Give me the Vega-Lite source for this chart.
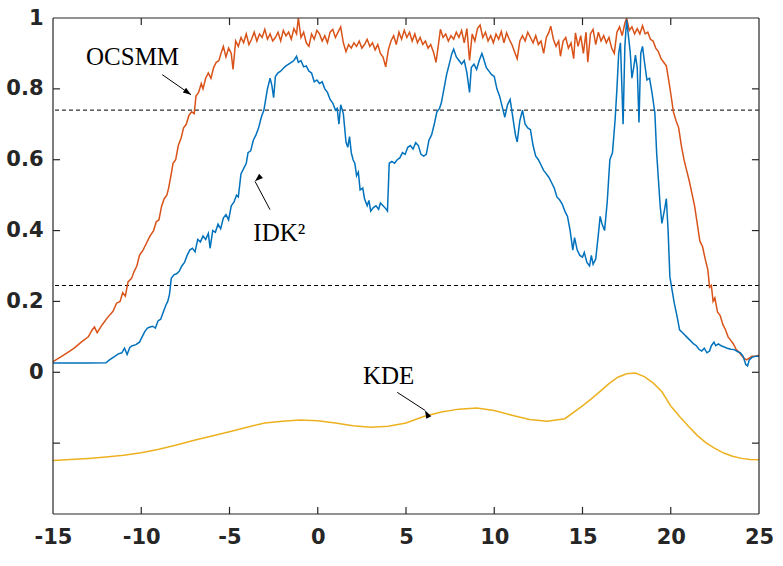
{
  "$schema": "https://vega.github.io/schema/vega-lite/v6.json",
  "description": "OCSMM, IDK2 and KDE scores with threshold lines",
  "width": 706,
  "height": 496,
  "autosize": "none",
  "padding": {"left": 53, "top": 18, "right": 24, "bottom": 52},
  "background": "white",
  "datasets": {
    "curves": [
      {"x": -15.0, "y": 0.030, "series": "OCSMM"},
      {"x": -14.6, "y": 0.042, "series": "OCSMM"},
      {"x": -14.2, "y": 0.055, "series": "OCSMM"},
      {"x": -13.8, "y": 0.068, "series": "OCSMM"},
      {"x": -13.4, "y": 0.085, "series": "OCSMM"},
      {"x": -13.0, "y": 0.100, "series": "OCSMM"},
      {"x": -12.8, "y": 0.118, "series": "OCSMM"},
      {"x": -12.65, "y": 0.128, "series": "OCSMM"},
      {"x": -12.5, "y": 0.112, "series": "OCSMM"},
      {"x": -12.2, "y": 0.135, "series": "OCSMM"},
      {"x": -11.9, "y": 0.155, "series": "OCSMM"},
      {"x": -11.6, "y": 0.172, "series": "OCSMM"},
      {"x": -11.4, "y": 0.195, "series": "OCSMM"},
      {"x": -11.2, "y": 0.200, "series": "OCSMM"},
      {"x": -11.05, "y": 0.225, "series": "OCSMM"},
      {"x": -10.9, "y": 0.215, "series": "OCSMM"},
      {"x": -10.75, "y": 0.255, "series": "OCSMM"},
      {"x": -10.55, "y": 0.265, "series": "OCSMM"},
      {"x": -10.4, "y": 0.285, "series": "OCSMM"},
      {"x": -10.25, "y": 0.300, "series": "OCSMM"},
      {"x": -10.1, "y": 0.330, "series": "OCSMM"},
      {"x": -9.9, "y": 0.345, "series": "OCSMM"},
      {"x": -9.7, "y": 0.365, "series": "OCSMM"},
      {"x": -9.5, "y": 0.385, "series": "OCSMM"},
      {"x": -9.3, "y": 0.400, "series": "OCSMM"},
      {"x": -9.15, "y": 0.425, "series": "OCSMM"},
      {"x": -9.0, "y": 0.430, "series": "OCSMM"},
      {"x": -8.85, "y": 0.468, "series": "OCSMM"},
      {"x": -8.7, "y": 0.490, "series": "OCSMM"},
      {"x": -8.55, "y": 0.500, "series": "OCSMM"},
      {"x": -8.45, "y": 0.520, "series": "OCSMM"},
      {"x": -8.3, "y": 0.560, "series": "OCSMM"},
      {"x": -8.2, "y": 0.590, "series": "OCSMM"},
      {"x": -8.05, "y": 0.600, "series": "OCSMM"},
      {"x": -7.9, "y": 0.640, "series": "OCSMM"},
      {"x": -7.75, "y": 0.660, "series": "OCSMM"},
      {"x": -7.6, "y": 0.690, "series": "OCSMM"},
      {"x": -7.45, "y": 0.700, "series": "OCSMM"},
      {"x": -7.3, "y": 0.725, "series": "OCSMM"},
      {"x": -7.15, "y": 0.735, "series": "OCSMM"},
      {"x": -7.0, "y": 0.730, "series": "OCSMM"},
      {"x": -6.9, "y": 0.780, "series": "OCSMM"},
      {"x": -6.75, "y": 0.790, "series": "OCSMM"},
      {"x": -6.6, "y": 0.815, "series": "OCSMM"},
      {"x": -6.5, "y": 0.800, "series": "OCSMM"},
      {"x": -6.35, "y": 0.830, "series": "OCSMM"},
      {"x": -6.2, "y": 0.845, "series": "OCSMM"},
      {"x": -6.05, "y": 0.830, "series": "OCSMM"},
      {"x": -5.9, "y": 0.860, "series": "OCSMM"},
      {"x": -5.75, "y": 0.875, "series": "OCSMM"},
      {"x": -5.6, "y": 0.880, "series": "OCSMM"},
      {"x": -5.45, "y": 0.905, "series": "OCSMM"},
      {"x": -5.35, "y": 0.920, "series": "OCSMM"},
      {"x": -5.2, "y": 0.890, "series": "OCSMM"},
      {"x": -5.05, "y": 0.915, "series": "OCSMM"},
      {"x": -4.9, "y": 0.900, "series": "OCSMM"},
      {"x": -4.8, "y": 0.855, "series": "OCSMM"},
      {"x": -4.65, "y": 0.935, "series": "OCSMM"},
      {"x": -4.5, "y": 0.920, "series": "OCSMM"},
      {"x": -4.35, "y": 0.945, "series": "OCSMM"},
      {"x": -4.2, "y": 0.930, "series": "OCSMM"},
      {"x": -4.05, "y": 0.955, "series": "OCSMM"},
      {"x": -3.9, "y": 0.925, "series": "OCSMM"},
      {"x": -3.75, "y": 0.940, "series": "OCSMM"},
      {"x": -3.6, "y": 0.960, "series": "OCSMM"},
      {"x": -3.45, "y": 0.935, "series": "OCSMM"},
      {"x": -3.3, "y": 0.955, "series": "OCSMM"},
      {"x": -3.15, "y": 0.945, "series": "OCSMM"},
      {"x": -3.0, "y": 0.968, "series": "OCSMM"},
      {"x": -2.85, "y": 0.940, "series": "OCSMM"},
      {"x": -2.7, "y": 0.955, "series": "OCSMM"},
      {"x": -2.55, "y": 0.935, "series": "OCSMM"},
      {"x": -2.4, "y": 0.945, "series": "OCSMM"},
      {"x": -2.25, "y": 0.960, "series": "OCSMM"},
      {"x": -2.1, "y": 0.935, "series": "OCSMM"},
      {"x": -1.95, "y": 0.965, "series": "OCSMM"},
      {"x": -1.8, "y": 0.950, "series": "OCSMM"},
      {"x": -1.65, "y": 0.960, "series": "OCSMM"},
      {"x": -1.5, "y": 0.940, "series": "OCSMM"},
      {"x": -1.35, "y": 0.970, "series": "OCSMM"},
      {"x": -1.2, "y": 0.955, "series": "OCSMM"},
      {"x": -1.1, "y": 1.000, "series": "OCSMM"},
      {"x": -0.95, "y": 0.945, "series": "OCSMM"},
      {"x": -0.8, "y": 0.960, "series": "OCSMM"},
      {"x": -0.65, "y": 0.930, "series": "OCSMM"},
      {"x": -0.5, "y": 0.920, "series": "OCSMM"},
      {"x": -0.35, "y": 0.955, "series": "OCSMM"},
      {"x": -0.2, "y": 0.940, "series": "OCSMM"},
      {"x": -0.05, "y": 0.965, "series": "OCSMM"},
      {"x": 0.1, "y": 0.955, "series": "OCSMM"},
      {"x": 0.25, "y": 0.935, "series": "OCSMM"},
      {"x": 0.4, "y": 0.950, "series": "OCSMM"},
      {"x": 0.55, "y": 0.930, "series": "OCSMM"},
      {"x": 0.7, "y": 0.960, "series": "OCSMM"},
      {"x": 0.85, "y": 0.968, "series": "OCSMM"},
      {"x": 1.0, "y": 0.945, "series": "OCSMM"},
      {"x": 1.15, "y": 0.960, "series": "OCSMM"},
      {"x": 1.3, "y": 0.975, "series": "OCSMM"},
      {"x": 1.45, "y": 0.930, "series": "OCSMM"},
      {"x": 1.6, "y": 0.905, "series": "OCSMM"},
      {"x": 1.75, "y": 0.925, "series": "OCSMM"},
      {"x": 1.9, "y": 0.915, "series": "OCSMM"},
      {"x": 2.05, "y": 0.930, "series": "OCSMM"},
      {"x": 2.2, "y": 0.920, "series": "OCSMM"},
      {"x": 2.35, "y": 0.935, "series": "OCSMM"},
      {"x": 2.5, "y": 0.915, "series": "OCSMM"},
      {"x": 2.65, "y": 0.925, "series": "OCSMM"},
      {"x": 2.8, "y": 0.940, "series": "OCSMM"},
      {"x": 2.95, "y": 0.920, "series": "OCSMM"},
      {"x": 3.1, "y": 0.930, "series": "OCSMM"},
      {"x": 3.25, "y": 0.910, "series": "OCSMM"},
      {"x": 3.4, "y": 0.925, "series": "OCSMM"},
      {"x": 3.55, "y": 0.900, "series": "OCSMM"},
      {"x": 3.7, "y": 0.890, "series": "OCSMM"},
      {"x": 3.85, "y": 0.862, "series": "OCSMM"},
      {"x": 4.0, "y": 0.910, "series": "OCSMM"},
      {"x": 4.15, "y": 0.935, "series": "OCSMM"},
      {"x": 4.3, "y": 0.950, "series": "OCSMM"},
      {"x": 4.45, "y": 0.925, "series": "OCSMM"},
      {"x": 4.6, "y": 0.960, "series": "OCSMM"},
      {"x": 4.75, "y": 0.940, "series": "OCSMM"},
      {"x": 4.9, "y": 0.965, "series": "OCSMM"},
      {"x": 5.05, "y": 0.945, "series": "OCSMM"},
      {"x": 5.2, "y": 0.960, "series": "OCSMM"},
      {"x": 5.35, "y": 0.935, "series": "OCSMM"},
      {"x": 5.5, "y": 0.955, "series": "OCSMM"},
      {"x": 5.65, "y": 0.930, "series": "OCSMM"},
      {"x": 5.8, "y": 0.945, "series": "OCSMM"},
      {"x": 5.95, "y": 0.925, "series": "OCSMM"},
      {"x": 6.1, "y": 0.935, "series": "OCSMM"},
      {"x": 6.25, "y": 0.915, "series": "OCSMM"},
      {"x": 6.4, "y": 0.925, "series": "OCSMM"},
      {"x": 6.55, "y": 0.905, "series": "OCSMM"},
      {"x": 6.7, "y": 0.875, "series": "OCSMM"},
      {"x": 6.85, "y": 0.930, "series": "OCSMM"},
      {"x": 6.95, "y": 0.968, "series": "OCSMM"},
      {"x": 7.1, "y": 0.945, "series": "OCSMM"},
      {"x": 7.25, "y": 0.955, "series": "OCSMM"},
      {"x": 7.4, "y": 0.935, "series": "OCSMM"},
      {"x": 7.55, "y": 0.950, "series": "OCSMM"},
      {"x": 7.7, "y": 0.940, "series": "OCSMM"},
      {"x": 7.85, "y": 0.960, "series": "OCSMM"},
      {"x": 8.0, "y": 0.945, "series": "OCSMM"},
      {"x": 8.15, "y": 0.965, "series": "OCSMM"},
      {"x": 8.3, "y": 0.930, "series": "OCSMM"},
      {"x": 8.45, "y": 0.970, "series": "OCSMM"},
      {"x": 8.6, "y": 0.880, "series": "OCSMM"},
      {"x": 8.75, "y": 0.955, "series": "OCSMM"},
      {"x": 8.9, "y": 0.935, "series": "OCSMM"},
      {"x": 9.05, "y": 0.970, "series": "OCSMM"},
      {"x": 9.2, "y": 0.980, "series": "OCSMM"},
      {"x": 9.35, "y": 0.945, "series": "OCSMM"},
      {"x": 9.5, "y": 0.960, "series": "OCSMM"},
      {"x": 9.65, "y": 0.935, "series": "OCSMM"},
      {"x": 9.8, "y": 0.950, "series": "OCSMM"},
      {"x": 9.95, "y": 0.930, "series": "OCSMM"},
      {"x": 10.1, "y": 0.955, "series": "OCSMM"},
      {"x": 10.25, "y": 0.940, "series": "OCSMM"},
      {"x": 10.4, "y": 0.962, "series": "OCSMM"},
      {"x": 10.55, "y": 0.930, "series": "OCSMM"},
      {"x": 10.7, "y": 0.958, "series": "OCSMM"},
      {"x": 10.85, "y": 0.940, "series": "OCSMM"},
      {"x": 11.0, "y": 0.925, "series": "OCSMM"},
      {"x": 11.15, "y": 0.905, "series": "OCSMM"},
      {"x": 11.3, "y": 0.885, "series": "OCSMM"},
      {"x": 11.45, "y": 0.935, "series": "OCSMM"},
      {"x": 11.6, "y": 0.950, "series": "OCSMM"},
      {"x": 11.75, "y": 0.935, "series": "OCSMM"},
      {"x": 11.9, "y": 0.960, "series": "OCSMM"},
      {"x": 12.05, "y": 0.945, "series": "OCSMM"},
      {"x": 12.2, "y": 0.930, "series": "OCSMM"},
      {"x": 12.35, "y": 0.950, "series": "OCSMM"},
      {"x": 12.5, "y": 0.925, "series": "OCSMM"},
      {"x": 12.65, "y": 0.935, "series": "OCSMM"},
      {"x": 12.8, "y": 0.900, "series": "OCSMM"},
      {"x": 12.95, "y": 0.945, "series": "OCSMM"},
      {"x": 13.1, "y": 0.960, "series": "OCSMM"},
      {"x": 13.2, "y": 0.977, "series": "OCSMM"},
      {"x": 13.35, "y": 0.940, "series": "OCSMM"},
      {"x": 13.5, "y": 0.920, "series": "OCSMM"},
      {"x": 13.65, "y": 0.935, "series": "OCSMM"},
      {"x": 13.75, "y": 0.892, "series": "OCSMM"},
      {"x": 13.9, "y": 0.935, "series": "OCSMM"},
      {"x": 14.05, "y": 0.945, "series": "OCSMM"},
      {"x": 14.2, "y": 0.915, "series": "OCSMM"},
      {"x": 14.35, "y": 0.930, "series": "OCSMM"},
      {"x": 14.5, "y": 0.885, "series": "OCSMM"},
      {"x": 14.6, "y": 0.958, "series": "OCSMM"},
      {"x": 14.75, "y": 0.920, "series": "OCSMM"},
      {"x": 14.9, "y": 0.950, "series": "OCSMM"},
      {"x": 15.05, "y": 0.900, "series": "OCSMM"},
      {"x": 15.2, "y": 0.960, "series": "OCSMM"},
      {"x": 15.3, "y": 0.875, "series": "OCSMM"},
      {"x": 15.45, "y": 0.955, "series": "OCSMM"},
      {"x": 15.6, "y": 0.968, "series": "OCSMM"},
      {"x": 15.75, "y": 0.925, "series": "OCSMM"},
      {"x": 15.9, "y": 0.960, "series": "OCSMM"},
      {"x": 16.05, "y": 0.935, "series": "OCSMM"},
      {"x": 16.2, "y": 0.950, "series": "OCSMM"},
      {"x": 16.35, "y": 0.930, "series": "OCSMM"},
      {"x": 16.5, "y": 0.945, "series": "OCSMM"},
      {"x": 16.65, "y": 0.915, "series": "OCSMM"},
      {"x": 16.8, "y": 0.900, "series": "OCSMM"},
      {"x": 16.95, "y": 0.960, "series": "OCSMM"},
      {"x": 17.1, "y": 0.975, "series": "OCSMM"},
      {"x": 17.25, "y": 0.950, "series": "OCSMM"},
      {"x": 17.4, "y": 0.985, "series": "OCSMM"},
      {"x": 17.5, "y": 1.000, "series": "OCSMM"},
      {"x": 17.65, "y": 0.965, "series": "OCSMM"},
      {"x": 17.8, "y": 0.975, "series": "OCSMM"},
      {"x": 17.95, "y": 0.955, "series": "OCSMM"},
      {"x": 18.1, "y": 0.970, "series": "OCSMM"},
      {"x": 18.25, "y": 0.955, "series": "OCSMM"},
      {"x": 18.4, "y": 0.978, "series": "OCSMM"},
      {"x": 18.55, "y": 0.955, "series": "OCSMM"},
      {"x": 18.7, "y": 0.960, "series": "OCSMM"},
      {"x": 18.85, "y": 0.940, "series": "OCSMM"},
      {"x": 19.0, "y": 0.935, "series": "OCSMM"},
      {"x": 19.15, "y": 0.915, "series": "OCSMM"},
      {"x": 19.3, "y": 0.905, "series": "OCSMM"},
      {"x": 19.45, "y": 0.885, "series": "OCSMM"},
      {"x": 19.6, "y": 0.875, "series": "OCSMM"},
      {"x": 19.75, "y": 0.865, "series": "OCSMM"},
      {"x": 19.9, "y": 0.820, "series": "OCSMM"},
      {"x": 20.05, "y": 0.770, "series": "OCSMM"},
      {"x": 20.15, "y": 0.735, "series": "OCSMM"},
      {"x": 20.3, "y": 0.710, "series": "OCSMM"},
      {"x": 20.45, "y": 0.690, "series": "OCSMM"},
      {"x": 20.6, "y": 0.640, "series": "OCSMM"},
      {"x": 20.75, "y": 0.600, "series": "OCSMM"},
      {"x": 20.9, "y": 0.570, "series": "OCSMM"},
      {"x": 21.05, "y": 0.540, "series": "OCSMM"},
      {"x": 21.2, "y": 0.505, "series": "OCSMM"},
      {"x": 21.35, "y": 0.470, "series": "OCSMM"},
      {"x": 21.5, "y": 0.420, "series": "OCSMM"},
      {"x": 21.65, "y": 0.370, "series": "OCSMM"},
      {"x": 21.8, "y": 0.355, "series": "OCSMM"},
      {"x": 21.95, "y": 0.320, "series": "OCSMM"},
      {"x": 22.1, "y": 0.290, "series": "OCSMM"},
      {"x": 22.2, "y": 0.240, "series": "OCSMM"},
      {"x": 22.3, "y": 0.245, "series": "OCSMM"},
      {"x": 22.4, "y": 0.200, "series": "OCSMM"},
      {"x": 22.5, "y": 0.210, "series": "OCSMM"},
      {"x": 22.65, "y": 0.170, "series": "OCSMM"},
      {"x": 22.8, "y": 0.160, "series": "OCSMM"},
      {"x": 22.95, "y": 0.135, "series": "OCSMM"},
      {"x": 23.1, "y": 0.120, "series": "OCSMM"},
      {"x": 23.25, "y": 0.100, "series": "OCSMM"},
      {"x": 23.4, "y": 0.090, "series": "OCSMM"},
      {"x": 23.55, "y": 0.080, "series": "OCSMM"},
      {"x": 23.7, "y": 0.065, "series": "OCSMM"},
      {"x": 23.85, "y": 0.058, "series": "OCSMM"},
      {"x": 24.0, "y": 0.048, "series": "OCSMM"},
      {"x": 24.15, "y": 0.040, "series": "OCSMM"},
      {"x": 24.3, "y": 0.035, "series": "OCSMM"},
      {"x": 24.45, "y": 0.040, "series": "OCSMM"},
      {"x": 24.6, "y": 0.045, "series": "OCSMM"},
      {"x": 24.8, "y": 0.045, "series": "OCSMM"},
      {"x": 25.0, "y": 0.048, "series": "OCSMM"},

      {"x": -15.0, "y": 0.026, "series": "IDK2"},
      {"x": -14.0, "y": 0.026, "series": "IDK2"},
      {"x": -13.0, "y": 0.026, "series": "IDK2"},
      {"x": -12.0, "y": 0.027, "series": "IDK2"},
      {"x": -11.8, "y": 0.035, "series": "IDK2"},
      {"x": -11.5, "y": 0.045, "series": "IDK2"},
      {"x": -11.3, "y": 0.052, "series": "IDK2"},
      {"x": -11.1, "y": 0.055, "series": "IDK2"},
      {"x": -10.95, "y": 0.068, "series": "IDK2"},
      {"x": -10.8, "y": 0.050, "series": "IDK2"},
      {"x": -10.65, "y": 0.070, "series": "IDK2"},
      {"x": -10.5, "y": 0.075, "series": "IDK2"},
      {"x": -10.3, "y": 0.078, "series": "IDK2"},
      {"x": -10.1, "y": 0.085, "series": "IDK2"},
      {"x": -9.95, "y": 0.100, "series": "IDK2"},
      {"x": -9.8, "y": 0.115, "series": "IDK2"},
      {"x": -9.65, "y": 0.125, "series": "IDK2"},
      {"x": -9.5, "y": 0.128, "series": "IDK2"},
      {"x": -9.35, "y": 0.130, "series": "IDK2"},
      {"x": -9.2, "y": 0.125, "series": "IDK2"},
      {"x": -9.05, "y": 0.145, "series": "IDK2"},
      {"x": -8.9, "y": 0.150, "series": "IDK2"},
      {"x": -8.75, "y": 0.170, "series": "IDK2"},
      {"x": -8.6, "y": 0.190, "series": "IDK2"},
      {"x": -8.5, "y": 0.200, "series": "IDK2"},
      {"x": -8.4, "y": 0.220, "series": "IDK2"},
      {"x": -8.3, "y": 0.265, "series": "IDK2"},
      {"x": -8.15, "y": 0.275, "series": "IDK2"},
      {"x": -8.0, "y": 0.278, "series": "IDK2"},
      {"x": -7.85, "y": 0.285, "series": "IDK2"},
      {"x": -7.7, "y": 0.300, "series": "IDK2"},
      {"x": -7.55, "y": 0.310, "series": "IDK2"},
      {"x": -7.4, "y": 0.330, "series": "IDK2"},
      {"x": -7.25, "y": 0.345, "series": "IDK2"},
      {"x": -7.1, "y": 0.350, "series": "IDK2"},
      {"x": -6.95, "y": 0.340, "series": "IDK2"},
      {"x": -6.8, "y": 0.375, "series": "IDK2"},
      {"x": -6.65, "y": 0.368, "series": "IDK2"},
      {"x": -6.5, "y": 0.385, "series": "IDK2"},
      {"x": -6.35, "y": 0.375, "series": "IDK2"},
      {"x": -6.2, "y": 0.392, "series": "IDK2"},
      {"x": -6.1, "y": 0.350, "series": "IDK2"},
      {"x": -5.95, "y": 0.400, "series": "IDK2"},
      {"x": -5.8, "y": 0.395, "series": "IDK2"},
      {"x": -5.65, "y": 0.418, "series": "IDK2"},
      {"x": -5.5, "y": 0.405, "series": "IDK2"},
      {"x": -5.35, "y": 0.435, "series": "IDK2"},
      {"x": -5.2, "y": 0.445, "series": "IDK2"},
      {"x": -5.05, "y": 0.430, "series": "IDK2"},
      {"x": -4.9, "y": 0.470, "series": "IDK2"},
      {"x": -4.75, "y": 0.480, "series": "IDK2"},
      {"x": -4.6, "y": 0.500, "series": "IDK2"},
      {"x": -4.5, "y": 0.495, "series": "IDK2"},
      {"x": -4.35, "y": 0.560, "series": "IDK2"},
      {"x": -4.2, "y": 0.575, "series": "IDK2"},
      {"x": -4.05, "y": 0.590, "series": "IDK2"},
      {"x": -3.95, "y": 0.620, "series": "IDK2"},
      {"x": -3.8, "y": 0.625, "series": "IDK2"},
      {"x": -3.65, "y": 0.655, "series": "IDK2"},
      {"x": -3.5, "y": 0.670, "series": "IDK2"},
      {"x": -3.35, "y": 0.690, "series": "IDK2"},
      {"x": -3.2, "y": 0.720, "series": "IDK2"},
      {"x": -3.05, "y": 0.740, "series": "IDK2"},
      {"x": -2.95, "y": 0.770, "series": "IDK2"},
      {"x": -2.85, "y": 0.800, "series": "IDK2"},
      {"x": -2.7, "y": 0.830, "series": "IDK2"},
      {"x": -2.6, "y": 0.810, "series": "IDK2"},
      {"x": -2.5, "y": 0.775, "series": "IDK2"},
      {"x": -2.4, "y": 0.835, "series": "IDK2"},
      {"x": -2.25, "y": 0.845, "series": "IDK2"},
      {"x": -2.1, "y": 0.850, "series": "IDK2"},
      {"x": -1.95, "y": 0.858, "series": "IDK2"},
      {"x": -1.8, "y": 0.865, "series": "IDK2"},
      {"x": -1.65, "y": 0.870, "series": "IDK2"},
      {"x": -1.5, "y": 0.875, "series": "IDK2"},
      {"x": -1.35, "y": 0.880, "series": "IDK2"},
      {"x": -1.2, "y": 0.892, "series": "IDK2"},
      {"x": -1.1, "y": 0.875, "series": "IDK2"},
      {"x": -0.95, "y": 0.880, "series": "IDK2"},
      {"x": -0.8, "y": 0.862, "series": "IDK2"},
      {"x": -0.65, "y": 0.865, "series": "IDK2"},
      {"x": -0.5, "y": 0.850, "series": "IDK2"},
      {"x": -0.35, "y": 0.845, "series": "IDK2"},
      {"x": -0.2, "y": 0.820, "series": "IDK2"},
      {"x": -0.05, "y": 0.825, "series": "IDK2"},
      {"x": 0.1, "y": 0.815, "series": "IDK2"},
      {"x": 0.25, "y": 0.820, "series": "IDK2"},
      {"x": 0.4, "y": 0.800, "series": "IDK2"},
      {"x": 0.55, "y": 0.790, "series": "IDK2"},
      {"x": 0.7, "y": 0.770, "series": "IDK2"},
      {"x": 0.85, "y": 0.760, "series": "IDK2"},
      {"x": 1.0, "y": 0.740, "series": "IDK2"},
      {"x": 1.1, "y": 0.745, "series": "IDK2"},
      {"x": 1.2, "y": 0.700, "series": "IDK2"},
      {"x": 1.3, "y": 0.755, "series": "IDK2"},
      {"x": 1.45, "y": 0.730, "series": "IDK2"},
      {"x": 1.6, "y": 0.650, "series": "IDK2"},
      {"x": 1.7, "y": 0.635, "series": "IDK2"},
      {"x": 1.8, "y": 0.665, "series": "IDK2"},
      {"x": 1.9, "y": 0.620, "series": "IDK2"},
      {"x": 2.0, "y": 0.600, "series": "IDK2"},
      {"x": 2.1, "y": 0.590, "series": "IDK2"},
      {"x": 2.2, "y": 0.555, "series": "IDK2"},
      {"x": 2.3, "y": 0.565, "series": "IDK2"},
      {"x": 2.4, "y": 0.515, "series": "IDK2"},
      {"x": 2.55, "y": 0.520, "series": "IDK2"},
      {"x": 2.65, "y": 0.490, "series": "IDK2"},
      {"x": 2.8, "y": 0.470, "series": "IDK2"},
      {"x": 2.9, "y": 0.485, "series": "IDK2"},
      {"x": 3.0, "y": 0.455, "series": "IDK2"},
      {"x": 3.15, "y": 0.465, "series": "IDK2"},
      {"x": 3.3, "y": 0.470, "series": "IDK2"},
      {"x": 3.45, "y": 0.460, "series": "IDK2"},
      {"x": 3.55, "y": 0.478, "series": "IDK2"},
      {"x": 3.7, "y": 0.470, "series": "IDK2"},
      {"x": 3.85, "y": 0.462, "series": "IDK2"},
      {"x": 3.95, "y": 0.455, "series": "IDK2"},
      {"x": 4.05, "y": 0.590, "series": "IDK2"},
      {"x": 4.2, "y": 0.595, "series": "IDK2"},
      {"x": 4.35, "y": 0.590, "series": "IDK2"},
      {"x": 4.5, "y": 0.600, "series": "IDK2"},
      {"x": 4.65, "y": 0.605, "series": "IDK2"},
      {"x": 4.8, "y": 0.620, "series": "IDK2"},
      {"x": 4.95, "y": 0.615, "series": "IDK2"},
      {"x": 5.1, "y": 0.635, "series": "IDK2"},
      {"x": 5.25, "y": 0.640, "series": "IDK2"},
      {"x": 5.4, "y": 0.630, "series": "IDK2"},
      {"x": 5.55, "y": 0.648, "series": "IDK2"},
      {"x": 5.7, "y": 0.640, "series": "IDK2"},
      {"x": 5.85, "y": 0.615, "series": "IDK2"},
      {"x": 6.0, "y": 0.610, "series": "IDK2"},
      {"x": 6.15, "y": 0.615, "series": "IDK2"},
      {"x": 6.3, "y": 0.655, "series": "IDK2"},
      {"x": 6.45, "y": 0.670, "series": "IDK2"},
      {"x": 6.6, "y": 0.700, "series": "IDK2"},
      {"x": 6.75, "y": 0.735, "series": "IDK2"},
      {"x": 6.9, "y": 0.745, "series": "IDK2"},
      {"x": 7.0, "y": 0.760, "series": "IDK2"},
      {"x": 7.15, "y": 0.800, "series": "IDK2"},
      {"x": 7.3, "y": 0.840, "series": "IDK2"},
      {"x": 7.45, "y": 0.870, "series": "IDK2"},
      {"x": 7.6, "y": 0.900, "series": "IDK2"},
      {"x": 7.7, "y": 0.912, "series": "IDK2"},
      {"x": 7.85, "y": 0.890, "series": "IDK2"},
      {"x": 8.0, "y": 0.880, "series": "IDK2"},
      {"x": 8.15, "y": 0.870, "series": "IDK2"},
      {"x": 8.3, "y": 0.880, "series": "IDK2"},
      {"x": 8.45, "y": 0.845, "series": "IDK2"},
      {"x": 8.6, "y": 0.790, "series": "IDK2"},
      {"x": 8.7, "y": 0.860, "series": "IDK2"},
      {"x": 8.85, "y": 0.870, "series": "IDK2"},
      {"x": 9.0, "y": 0.855, "series": "IDK2"},
      {"x": 9.15, "y": 0.880, "series": "IDK2"},
      {"x": 9.3, "y": 0.900, "series": "IDK2"},
      {"x": 9.4, "y": 0.885, "series": "IDK2"},
      {"x": 9.55, "y": 0.860, "series": "IDK2"},
      {"x": 9.7, "y": 0.850, "series": "IDK2"},
      {"x": 9.85, "y": 0.840, "series": "IDK2"},
      {"x": 10.0, "y": 0.835, "series": "IDK2"},
      {"x": 10.15, "y": 0.800, "series": "IDK2"},
      {"x": 10.3, "y": 0.780, "series": "IDK2"},
      {"x": 10.45, "y": 0.750, "series": "IDK2"},
      {"x": 10.6, "y": 0.720, "series": "IDK2"},
      {"x": 10.75, "y": 0.755, "series": "IDK2"},
      {"x": 10.9, "y": 0.770, "series": "IDK2"},
      {"x": 11.05, "y": 0.720, "series": "IDK2"},
      {"x": 11.2, "y": 0.670, "series": "IDK2"},
      {"x": 11.3, "y": 0.650, "series": "IDK2"},
      {"x": 11.45, "y": 0.710, "series": "IDK2"},
      {"x": 11.6, "y": 0.740, "series": "IDK2"},
      {"x": 11.75, "y": 0.700, "series": "IDK2"},
      {"x": 11.9, "y": 0.690, "series": "IDK2"},
      {"x": 12.05, "y": 0.685, "series": "IDK2"},
      {"x": 12.2, "y": 0.640, "series": "IDK2"},
      {"x": 12.35, "y": 0.610, "series": "IDK2"},
      {"x": 12.5, "y": 0.600, "series": "IDK2"},
      {"x": 12.65, "y": 0.585, "series": "IDK2"},
      {"x": 12.8, "y": 0.570, "series": "IDK2"},
      {"x": 12.95, "y": 0.560, "series": "IDK2"},
      {"x": 13.1, "y": 0.550, "series": "IDK2"},
      {"x": 13.25, "y": 0.535, "series": "IDK2"},
      {"x": 13.4, "y": 0.520, "series": "IDK2"},
      {"x": 13.55, "y": 0.495, "series": "IDK2"},
      {"x": 13.7, "y": 0.487, "series": "IDK2"},
      {"x": 13.85, "y": 0.475, "series": "IDK2"},
      {"x": 14.0, "y": 0.455, "series": "IDK2"},
      {"x": 14.15, "y": 0.440, "series": "IDK2"},
      {"x": 14.3, "y": 0.400, "series": "IDK2"},
      {"x": 14.45, "y": 0.345, "series": "IDK2"},
      {"x": 14.55, "y": 0.380, "series": "IDK2"},
      {"x": 14.7, "y": 0.345, "series": "IDK2"},
      {"x": 14.85, "y": 0.330, "series": "IDK2"},
      {"x": 15.0, "y": 0.325, "series": "IDK2"},
      {"x": 15.1, "y": 0.338, "series": "IDK2"},
      {"x": 15.25, "y": 0.310, "series": "IDK2"},
      {"x": 15.4, "y": 0.300, "series": "IDK2"},
      {"x": 15.5, "y": 0.330, "series": "IDK2"},
      {"x": 15.6, "y": 0.305, "series": "IDK2"},
      {"x": 15.75, "y": 0.320, "series": "IDK2"},
      {"x": 15.9, "y": 0.390, "series": "IDK2"},
      {"x": 16.0, "y": 0.440, "series": "IDK2"},
      {"x": 16.1, "y": 0.420, "series": "IDK2"},
      {"x": 16.25, "y": 0.400, "series": "IDK2"},
      {"x": 16.4, "y": 0.480, "series": "IDK2"},
      {"x": 16.55, "y": 0.600, "series": "IDK2"},
      {"x": 16.7, "y": 0.620, "series": "IDK2"},
      {"x": 16.85, "y": 0.715, "series": "IDK2"},
      {"x": 16.95, "y": 0.800, "series": "IDK2"},
      {"x": 17.05, "y": 0.900, "series": "IDK2"},
      {"x": 17.15, "y": 0.930, "series": "IDK2"},
      {"x": 17.3, "y": 0.700, "series": "IDK2"},
      {"x": 17.4, "y": 0.920, "series": "IDK2"},
      {"x": 17.5, "y": 0.995, "series": "IDK2"},
      {"x": 17.6, "y": 0.950, "series": "IDK2"},
      {"x": 17.7, "y": 0.905, "series": "IDK2"},
      {"x": 17.8, "y": 0.830, "series": "IDK2"},
      {"x": 17.9, "y": 0.860, "series": "IDK2"},
      {"x": 18.0, "y": 0.895, "series": "IDK2"},
      {"x": 18.1, "y": 0.860, "series": "IDK2"},
      {"x": 18.2, "y": 0.705, "series": "IDK2"},
      {"x": 18.3, "y": 0.900, "series": "IDK2"},
      {"x": 18.4, "y": 0.920, "series": "IDK2"},
      {"x": 18.5, "y": 0.880, "series": "IDK2"},
      {"x": 18.65, "y": 0.825, "series": "IDK2"},
      {"x": 18.8, "y": 0.830, "series": "IDK2"},
      {"x": 18.95, "y": 0.785, "series": "IDK2"},
      {"x": 19.1, "y": 0.732, "series": "IDK2"},
      {"x": 19.2, "y": 0.620, "series": "IDK2"},
      {"x": 19.3, "y": 0.545, "series": "IDK2"},
      {"x": 19.4, "y": 0.470, "series": "IDK2"},
      {"x": 19.5, "y": 0.420, "series": "IDK2"},
      {"x": 19.65, "y": 0.460, "series": "IDK2"},
      {"x": 19.75, "y": 0.490, "series": "IDK2"},
      {"x": 19.85, "y": 0.400, "series": "IDK2"},
      {"x": 19.95, "y": 0.270, "series": "IDK2"},
      {"x": 20.05, "y": 0.240, "series": "IDK2"},
      {"x": 20.2, "y": 0.195, "series": "IDK2"},
      {"x": 20.35, "y": 0.160, "series": "IDK2"},
      {"x": 20.5, "y": 0.120, "series": "IDK2"},
      {"x": 20.7, "y": 0.110, "series": "IDK2"},
      {"x": 20.9, "y": 0.100, "series": "IDK2"},
      {"x": 21.1, "y": 0.090, "series": "IDK2"},
      {"x": 21.3, "y": 0.080, "series": "IDK2"},
      {"x": 21.45, "y": 0.075, "series": "IDK2"},
      {"x": 21.6, "y": 0.065, "series": "IDK2"},
      {"x": 21.75, "y": 0.060, "series": "IDK2"},
      {"x": 21.9, "y": 0.068, "series": "IDK2"},
      {"x": 22.05, "y": 0.055, "series": "IDK2"},
      {"x": 22.2, "y": 0.060, "series": "IDK2"},
      {"x": 22.3, "y": 0.075, "series": "IDK2"},
      {"x": 22.45, "y": 0.085, "series": "IDK2"},
      {"x": 22.55, "y": 0.075, "series": "IDK2"},
      {"x": 22.7, "y": 0.080, "series": "IDK2"},
      {"x": 22.85, "y": 0.075, "series": "IDK2"},
      {"x": 23.0, "y": 0.072, "series": "IDK2"},
      {"x": 23.2, "y": 0.068, "series": "IDK2"},
      {"x": 23.4, "y": 0.065, "series": "IDK2"},
      {"x": 23.6, "y": 0.064, "series": "IDK2"},
      {"x": 23.8, "y": 0.058, "series": "IDK2"},
      {"x": 23.95, "y": 0.055, "series": "IDK2"},
      {"x": 24.1, "y": 0.045, "series": "IDK2"},
      {"x": 24.25, "y": 0.022, "series": "IDK2"},
      {"x": 24.35, "y": 0.018, "series": "IDK2"},
      {"x": 24.45, "y": 0.035, "series": "IDK2"},
      {"x": 24.6, "y": 0.042, "series": "IDK2"},
      {"x": 24.8, "y": 0.045, "series": "IDK2"},
      {"x": 25.0, "y": 0.045, "series": "IDK2"},

      {"x": -15, "y": -0.249, "series": "KDE"},
      {"x": -14, "y": -0.246, "series": "KDE"},
      {"x": -13, "y": -0.243, "series": "KDE"},
      {"x": -12, "y": -0.239, "series": "KDE"},
      {"x": -11, "y": -0.234, "series": "KDE"},
      {"x": -10, "y": -0.227, "series": "KDE"},
      {"x": -9, "y": -0.217, "series": "KDE"},
      {"x": -8, "y": -0.205, "series": "KDE"},
      {"x": -7, "y": -0.192, "series": "KDE"},
      {"x": -6, "y": -0.180, "series": "KDE"},
      {"x": -5, "y": -0.168, "series": "KDE"},
      {"x": -4, "y": -0.155, "series": "KDE"},
      {"x": -3, "y": -0.143, "series": "KDE"},
      {"x": -2, "y": -0.138, "series": "KDE"},
      {"x": -1, "y": -0.135, "series": "KDE"},
      {"x": 0, "y": -0.137, "series": "KDE"},
      {"x": 1, "y": -0.143, "series": "KDE"},
      {"x": 2, "y": -0.151, "series": "KDE"},
      {"x": 3, "y": -0.155, "series": "KDE"},
      {"x": 4, "y": -0.152, "series": "KDE"},
      {"x": 5, "y": -0.143, "series": "KDE"},
      {"x": 6, "y": -0.125, "series": "KDE"},
      {"x": 7, "y": -0.112, "series": "KDE"},
      {"x": 8, "y": -0.104, "series": "KDE"},
      {"x": 9, "y": -0.101, "series": "KDE"},
      {"x": 10, "y": -0.108, "series": "KDE"},
      {"x": 11, "y": -0.121, "series": "KDE"},
      {"x": 12, "y": -0.133, "series": "KDE"},
      {"x": 13, "y": -0.138, "series": "KDE"},
      {"x": 14, "y": -0.131, "series": "KDE"},
      {"x": 15, "y": -0.095, "series": "KDE"},
      {"x": 15.5, "y": -0.075, "series": "KDE"},
      {"x": 16, "y": -0.054, "series": "KDE"},
      {"x": 16.5, "y": -0.032, "series": "KDE"},
      {"x": 17, "y": -0.014, "series": "KDE"},
      {"x": 17.5, "y": -0.004, "series": "KDE"},
      {"x": 18, "y": -0.002, "series": "KDE"},
      {"x": 18.5, "y": -0.012, "series": "KDE"},
      {"x": 19, "y": -0.030, "series": "KDE"},
      {"x": 19.5, "y": -0.055, "series": "KDE"},
      {"x": 20, "y": -0.095, "series": "KDE"},
      {"x": 20.5, "y": -0.125, "series": "KDE"},
      {"x": 21, "y": -0.152, "series": "KDE"},
      {"x": 21.5, "y": -0.178, "series": "KDE"},
      {"x": 22, "y": -0.199, "series": "KDE"},
      {"x": 22.5, "y": -0.215, "series": "KDE"},
      {"x": 23, "y": -0.228, "series": "KDE"},
      {"x": 23.5, "y": -0.237, "series": "KDE"},
      {"x": 24, "y": -0.243, "series": "KDE"},
      {"x": 24.5, "y": -0.246, "series": "KDE"},
      {"x": 25, "y": -0.247, "series": "KDE"}
    ],
    "thresholds": [{"y": 0.74}, {"y": 0.245}],
    "frame": [
      {"x": -15, "y": -0.4, "x2": 25, "y2": -0.4},
      {"x": -15, "y": 1, "x2": 25, "y2": 1},
      {"x": -15, "y": -0.4, "x2": -15, "y2": 1},
      {"x": 25, "y": -0.4, "x2": 25, "y2": 1},
      {"x": -10, "y": -0.4, "x2": -10, "y2": -0.38},
      {"x": -5, "y": -0.4, "x2": -5, "y2": -0.38},
      {"x": 0, "y": -0.4, "x2": 0, "y2": -0.38},
      {"x": 5, "y": -0.4, "x2": 5, "y2": -0.38},
      {"x": 10, "y": -0.4, "x2": 10, "y2": -0.38},
      {"x": 15, "y": -0.4, "x2": 15, "y2": -0.38},
      {"x": 20, "y": -0.4, "x2": 20, "y2": -0.38},
      {"x": -10, "y": 1, "x2": -10, "y2": 0.98},
      {"x": -5, "y": 1, "x2": -5, "y2": 0.98},
      {"x": 0, "y": 1, "x2": 0, "y2": 0.98},
      {"x": 5, "y": 1, "x2": 5, "y2": 0.98},
      {"x": 10, "y": 1, "x2": 10, "y2": 0.98},
      {"x": 15, "y": 1, "x2": 15, "y2": 0.98},
      {"x": 20, "y": 1, "x2": 20, "y2": 0.98},
      {"x": -15, "y": -0.2, "x2": -14.6, "y2": -0.2},
      {"x": -15, "y": 0, "x2": -14.6, "y2": 0},
      {"x": -15, "y": 0.2, "x2": -14.6, "y2": 0.2},
      {"x": -15, "y": 0.4, "x2": -14.6, "y2": 0.4},
      {"x": -15, "y": 0.6, "x2": -14.6, "y2": 0.6},
      {"x": -15, "y": 0.8, "x2": -14.6, "y2": 0.8},
      {"x": 25, "y": -0.2, "x2": 24.6, "y2": -0.2},
      {"x": 25, "y": 0, "x2": 24.6, "y2": 0},
      {"x": 25, "y": 0.2, "x2": 24.6, "y2": 0.2},
      {"x": 25, "y": 0.4, "x2": 24.6, "y2": 0.4},
      {"x": 25, "y": 0.6, "x2": 24.6, "y2": 0.6},
      {"x": 25, "y": 0.8, "x2": 24.6, "y2": 0.8}
    ],
    "notes": [
      {"x": -13.13, "y": 0.868, "text": "OCSMM"},
      {"x": -3.65, "y": 0.37, "text": "IDK²"},
      {"x": 2.56, "y": -0.032, "text": "KDE"}
    ],
    "arrows": [
      {"name": "OCSMM", "x": -8.81, "y": 0.84, "x2": -7.18, "y2": 0.7835},
      {"name": "IDK", "x": -2.705, "y": 0.459, "x2": -3.555, "y2": 0.539},
      {"name": "KDE", "x": 4.507, "y": -0.0567, "x2": 6.076, "y2": -0.1075}
    ]
  },
  "layer": [
    {
      "data": {"name": "thresholds"},
      "mark": {"type": "rule", "color": "black", "strokeWidth": 1, "strokeDash": [4, 3]},
      "encoding": {
        "y": {"field": "y", "type": "quantitative", "scale": {"domain": [-0.4, 1], "nice": false}}
      }
    },
    {
      "data": {"name": "curves"},
      "mark": {"type": "line", "strokeWidth": 1.5, "clip": true},
      "encoding": {
        "x": {
          "field": "x", "type": "quantitative",
          "scale": {"domain": [-15, 25], "nice": false},
          "axis": {"orient": "bottom", "values": [-15, -10, -5, 0, 5, 10, 15, 20, 25], "labelExpr": "toString(datum.value)", "labelPadding": 12,
                   "domain": false, "ticks": false}
        },
        "y": {
          "field": "y", "type": "quantitative",
          "scale": {"domain": [-0.4, 1], "nice": false},
          "axis": {"orient": "left", "values": [-0.4, -0.2, 0, 0.2, 0.4, 0.6, 0.8, 1], "labelExpr": "datum.value < 0 ? '' : toString(datum.value)", "labelPadding": 10,
                   "domain": false, "ticks": false}
        },
        "color": {
          "field": "series", "type": "nominal",
          "scale": {"domain": ["OCSMM", "IDK2", "KDE"], "range": ["#D95319", "#0072BD", "#EDB120"]},
          "legend": null
        }
      }
    },
    {
      "data": {"name": "frame"},
      "mark": {"type": "rule", "color": "#262626", "strokeWidth": 1.2},
      "encoding": {
        "x": {"field": "x", "type": "quantitative"},
        "y": {"field": "y", "type": "quantitative"},
        "x2": {"field": "x2"},
        "y2": {"field": "y2"}
      }
    },
    {
      "data": {"name": "arrows"},
      "mark": {"type": "rule", "color": "black", "strokeWidth": 1},
      "encoding": {
        "x": {"field": "x", "type": "quantitative"},
        "y": {"field": "y", "type": "quantitative"},
        "x2": {"field": "x2"},
        "y2": {"field": "y2"}
      }
    },
    {
      "data": {"name": "arrows"},
      "mark": {"type": "point", "shape": "M0,0L-0.6,1.7L0.6,1.7Z", "filled": true, "color": "black", "opacity": 1, "size": 90},
      "encoding": {
        "x": {"field": "x2", "type": "quantitative"},
        "y": {"field": "y2", "type": "quantitative"},
        "angle": {"field": "name", "type": "nominal", "scale": {"domain": ["OCSMM", "IDK", "KDE"], "range": [125, 332, 123]}, "legend": null}
      }
    },
    {
      "data": {"name": "notes"},
      "mark": {"type": "text", "font": "Liberation Serif", "fontSize": 25, "align": "left", "baseline": "alphabetic", "color": "black"},
      "encoding": {
        "x": {"field": "x", "type": "quantitative"},
        "y": {"field": "y", "type": "quantitative"},
        "text": {"field": "text"}
      }
    }
  ],
  "config": {
    "view": {"stroke": null},
    "axis": {
      "title": null,
      "grid": false,
      "labelFont": "DejaVu Sans",
      "labelFontWeight": "bold",
      "labelFontSize": 21,
      "labelColor": "#262626",
      "labelFlush": false,
      "labelOverlap": false
    }
  }
}
